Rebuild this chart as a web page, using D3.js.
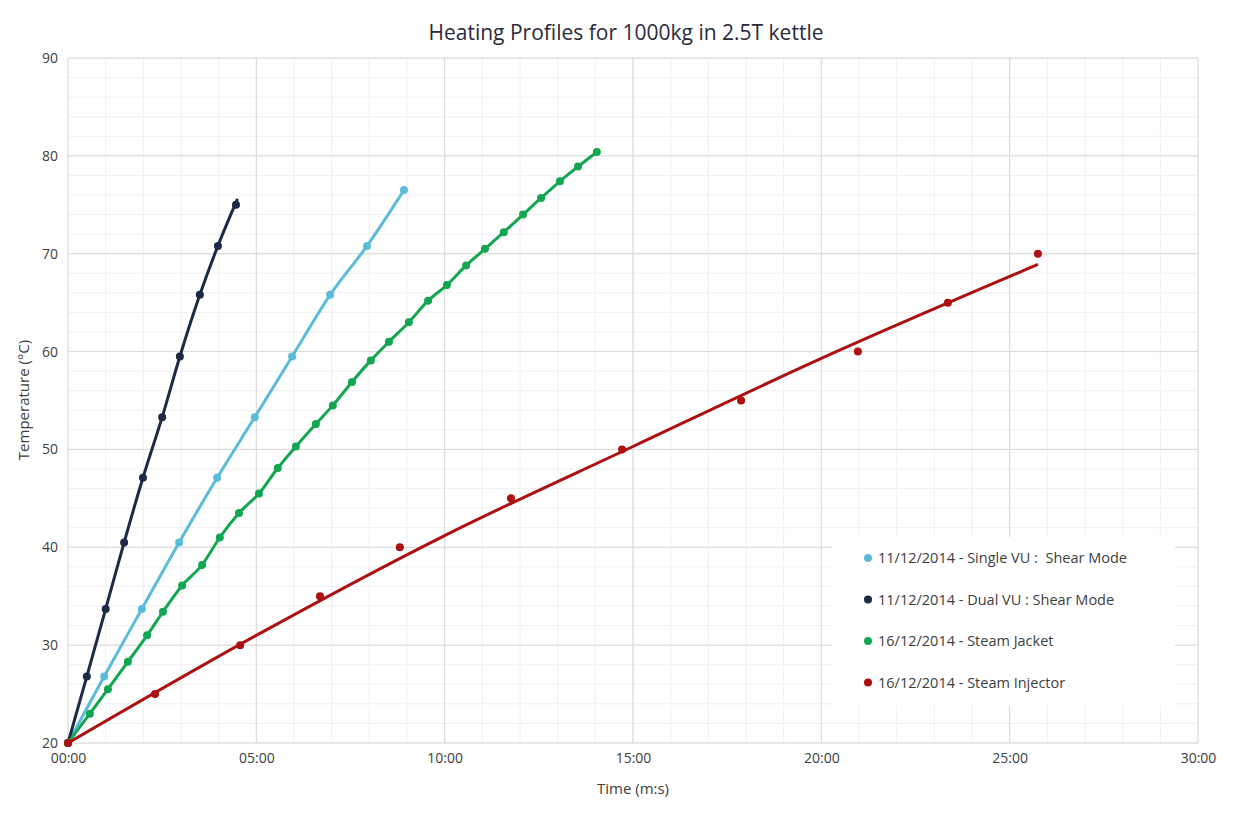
<!DOCTYPE html>
<html><head><meta charset="utf-8">
<script src="https://cdn.jsdelivr.net/npm/d3@7"></script>
<style>body{margin:0;background:#fff;font-family:"Open Sans",Arial,sans-serif;}</style>
</head><body><svg id="chart" width="1249" height="817"></svg>
<script>
// minutes / °C
const dualT = [0, 0.5, 1, 1.49, 1.99, 2.5, 2.97, 3.5, 3.98, 4.46];
const dualV = [20, 26.8, 33.7, 40.5, 47.1, 53.3, 59.5, 65.8, 70.8, 75.0];
const dualTrendT = [0, 0.5, 1, 1.49, 1.99, 2.5, 2.97, 3.5, 3.98, 4.5];
const dualTrendV = [20, 26.8, 33.7, 40.5, 47.1, 53.3, 59.5, 65.8, 70.8, 75.6];
const singleT = [0, 0.96, 1.96, 2.95, 3.96, 4.96, 5.95, 6.96, 7.94, 8.92];
const singleV = [20, 26.8, 33.7, 40.5, 47.1, 53.3, 59.5, 65.8, 70.8, 76.5];
const jacketT = [0, 0.58, 1.06, 1.59, 2.1, 2.52, 3.03, 3.56, 4.03, 4.54, 5.07, 5.57, 6.05, 6.58, 7.03, 7.54, 8.04, 8.52, 9.05, 9.56, 10.06, 10.57, 11.07, 11.57, 12.08, 12.56, 13.06, 13.54, 14.04];
const jacketV = [20, 23, 25.5, 28.3, 31, 33.4, 36.1, 38.2, 41, 43.5, 45.5, 48.1, 50.3, 52.6, 54.5, 56.9, 59.1, 61, 63, 65.2, 66.8, 68.8, 70.5, 72.2, 74, 75.7, 77.4, 78.9, 80.4];
const injT = [0, 2.31, 4.57, 6.69, 8.81, 11.76, 14.71, 17.87, 20.97, 23.36, 25.75];
const injV = [20, 25, 30, 35, 40, 45, 50, 55, 60, 65, 70];
const injTrendT = [0, 5, 10, 15, 20, 25.75];
const injTrendV = [20, 31, 41.2, 50.3, 59.3, 68.9];
const xTicks = [0, 5, 10, 15, 20, 25, 30];
const xLabels = ['00:00', '05:00', '10:00', '15:00', '20:00', '25:00', '30:00'];

const series = [
  { name: '11/12/2014 - Single VU :  Shear Mode', color: '#5bbcd9', t: singleT, v: singleV },
  { name: '11/12/2014 - Dual VU : Shear Mode', color: '#1c2a45', t: dualT, v: dualV, tt: dualTrendT, tv: dualTrendV },
  { name: '16/12/2014 - Steam Jacket', color: '#13a650', t: jacketT, v: jacketV },
  { name: '16/12/2014 - Steam Injector', color: '#ad1010', t: injT, v: injV, tt: injTrendT, tv: injTrendV },
];

const svg = d3.select('#chart');
const x = d3.scaleLinear().domain([0, 30]).range([68, 1198]);
const y = d3.scaleLinear().domain([20, 90]).range([743, 58]);

const g = svg.append('g');
// minor grid
g.selectAll('.mx').data(d3.range(0, 31, 1)).join('line')
  .attr('x1', (d) => x(d)).attr('x2', (d) => x(d)).attr('y1', y(20)).attr('y2', y(90))
  .attr('stroke', '#f0f0f0');
g.selectAll('.my').data(d3.range(20, 91, 2)).join('line')
  .attr('x1', x(0)).attr('x2', x(30)).attr('y1', (d) => y(d)).attr('y2', (d) => y(d))
  .attr('stroke', '#f0f0f0');
// major grid
g.selectAll('.Mx').data(xTicks).join('line')
  .attr('x1', (d) => x(d)).attr('x2', (d) => x(d)).attr('y1', y(20)).attr('y2', y(90))
  .attr('stroke', '#d9d9d9');
g.selectAll('.My').data(d3.range(20, 91, 10)).join('line')
  .attr('x1', x(0)).attr('x2', x(30)).attr('y1', (d) => y(d)).attr('y2', (d) => y(d))
  .attr('stroke', '#d9d9d9');

const xAxis = svg.append('g').attr('transform', `translate(0,${y(20)})`)
  .call(d3.axisBottom(x).tickValues(xTicks).tickFormat((d, i) => xLabels[i]).tickSize(0).tickPadding(10));
const yAxis = svg.append('g').attr('transform', `translate(${x(0)},0)`)
  .call(d3.axisLeft(y).tickValues(d3.range(20, 91, 10)).tickSize(0).tickPadding(10));
[xAxis, yAxis].forEach((a) => {
  a.select('.domain').remove();
  a.selectAll('text').attr('font-size', 14).attr('fill', '#404040').attr('font-family', '"Open Sans",Arial,sans-serif');
});

const line = d3.line().x((d) => x(d[0])).y((d) => y(d[1])).curve(d3.curveMonotoneX);
series.forEach((s) => {
  const pts = s.t.map((t, i) => [t, s.v[i]]);
  const tr = s.tt ? s.tt.map((t, i) => [t, s.tv[i]]) : pts;
  svg.append('path').datum(tr).attr('d', line)
    .attr('fill', 'none').attr('stroke', s.color).attr('stroke-width', 3);
  svg.append('g').selectAll('circle').data(pts).join('circle')
    .attr('cx', (d) => x(d[0])).attr('cy', (d) => y(d[1])).attr('r', 4)
    .attr('fill', s.color);
});

svg.append('text').attr('x', 626).attr('y', 40).attr('text-anchor', 'middle')
  .attr('font-size', 21).attr('fill', '#2a2a3a').text('Heating Profiles for 1000kg in 2.5T kettle');
svg.append('text').attr('x', 633).attr('y', 794).attr('text-anchor', 'middle')
  .attr('font-size', 15).attr('fill', '#404040').text('Time (m:s)');
svg.append('text').attr('transform', 'translate(29,400) rotate(-90)').attr('text-anchor', 'middle')
  .attr('font-size', 15).attr('fill', '#404040').text('Temperature (°C)');

const lg = svg.append('g');
lg.append('rect').attr('x', 832).attr('y', 537).attr('width', 343).attr('height', 168).attr('fill', '#fff');
series.forEach((s, i) => {
  const yy = 558 + i * 41.5;
  lg.append('circle').attr('cx', 868).attr('cy', yy).attr('r', 4).attr('fill', s.color);
  lg.append('text').attr('x', 878).attr('y', yy + 5).attr('font-size', 14.5).attr('fill', '#404040')
    .attr('xml:space', 'preserve').style('white-space', 'pre').text(s.name);
});
</script></body></html>
